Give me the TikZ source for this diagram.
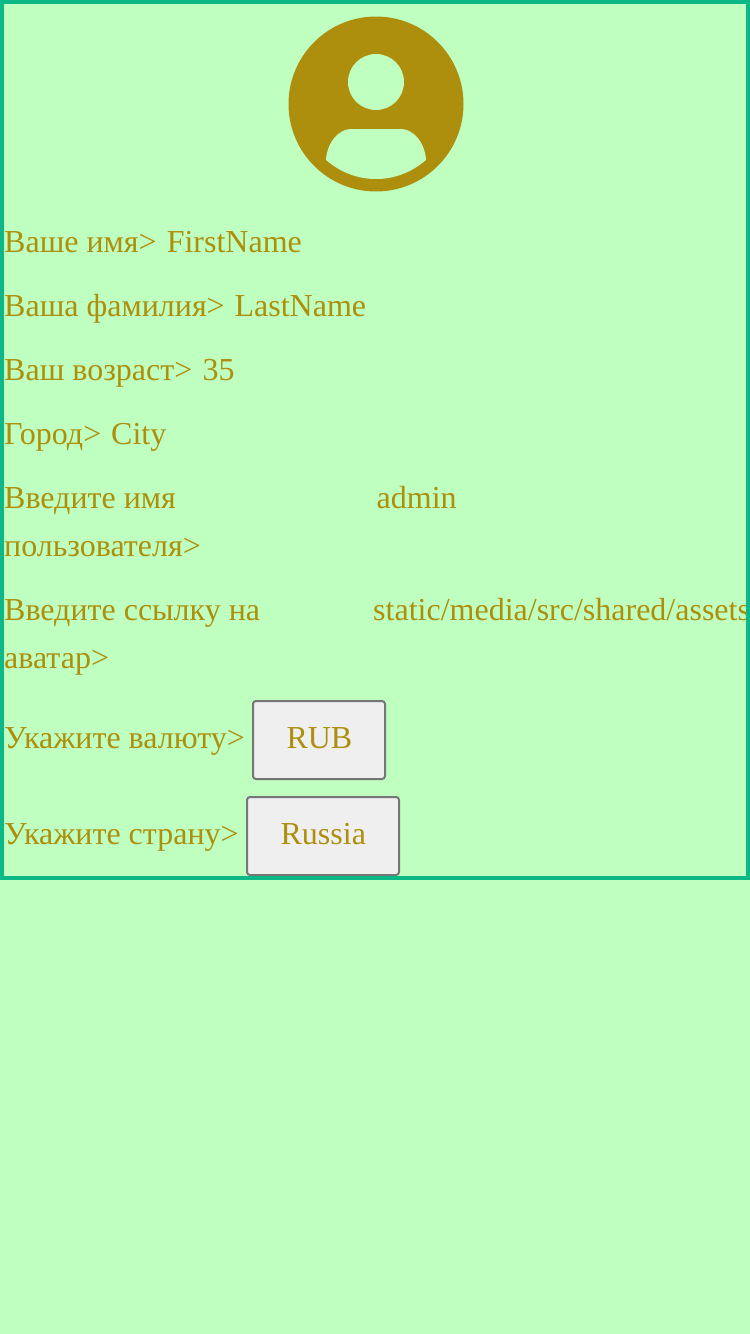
\documentclass[tikz,border=0pt]{standalone}
\usepackage{fontspec}
\setmainfont{Liberation Serif}
\definecolor{pagebg}{HTML}{BFFFBF}
\definecolor{frameline}{HTML}{0CB886}
\definecolor{goldtext}{HTML}{AD8F0D}
\definecolor{btnfill}{HTML}{EFEFEF}
\definecolor{btnline}{HTML}{767676}
\tikzset{
    rowtext/.style={anchor=base west, inner sep=0pt, text=goldtext, font=\fontsize{32}{32}\selectfont},
    btn/.style={draw=btnline, line width=2pt, fill=btnfill, rounded corners=3pt, inner sep=0pt,
        minimum height=78pt, text height=24pt, text depth=8pt, text=goldtext, font=\fontsize{32}{32}\selectfont}
}
\begin{document}
\begin{tikzpicture}[x=1pt,y=-1pt]
    \useasboundingbox (0,0) rectangle (750,1334);
    \fill[pagebg] (0,0) rectangle (750,1334);
    % avatar
    \fill[goldtext] (376,104) circle (87.5pt);
    \fill[pagebg] (376,82) circle (28pt);
    \fill[pagebg] (326,160) .. controls (327,142) and (339,129) .. (351,129) -- (401,129)
        .. controls (413,129) and (425,142) .. (426,160)
        .. controls (412,172) and (395,179) .. (376,179)
        .. controls (357,179) and (340,172) .. (326,160) -- cycle;
    % rows
    \node[rowtext] (firstname) at (4,252) {Ваше имя>};
    \node[rowtext] (firstval) at (166.6,252) {FirstName};
    \node[rowtext] (lastname) at (4,316) {Ваша фамилия>};
    \node[rowtext] (lastval) at (234.4,316) {LastName};
    \node[rowtext] (age) at (4,380) {Ваш возраст>};
    \node[rowtext] (ageval) at (202.4,380) {35};
    \node[rowtext] (city) at (4,444) {Город>};
    \node[rowtext] (cityval) at (111,444) {City};
    \node[rowtext] (user) at (4,508) {Введите имя};
    \node[rowtext] (usertwo) at (4,556) {пользователя>};
    \node[rowtext] (userval) at (376.5,508) {admin};
    \node[rowtext] (link) at (4,620) {Введите ссылку на};
    \node[rowtext] (linktwo) at (4,668) {аватар>};
    \node[rowtext] (linkval) at (373,620) {static/media/src/shared/assets};
    \node[rowtext] (currency) at (4,748) {Укажите валюту>};
    \node[btn, minimum width=132pt] (rub) at (319,740) {\kern0.8pt RUB};
    \node[rowtext] (country) at (4,844) {Укажите страну>};
    \node[btn, minimum width=152pt] (russia) at (323,836) {\kern0.6pt Russia};
    % frame
    \draw[frameline, line width=4pt] (2,2) rectangle (748,878);
\end{tikzpicture}
\end{document}
